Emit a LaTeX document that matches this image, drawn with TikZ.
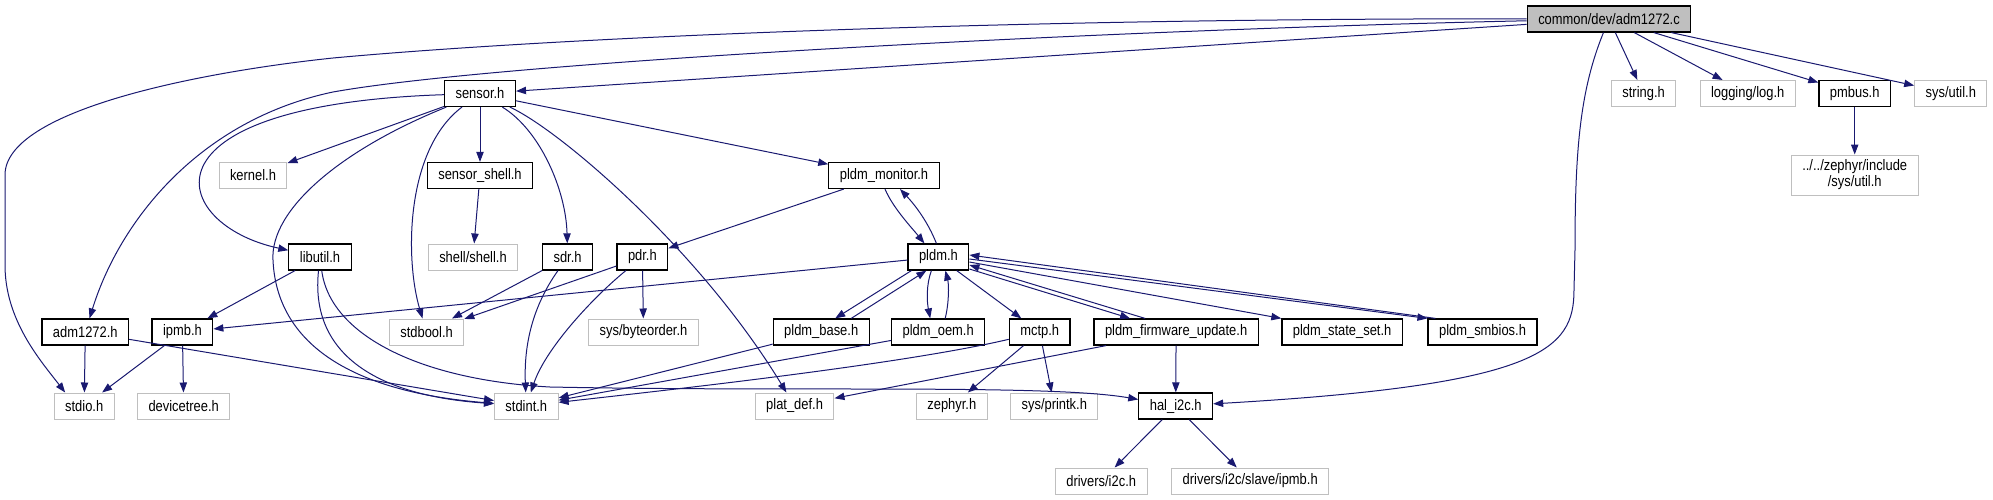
\documentclass[tikz,border=0pt]{standalone}
\usepackage{fontspec}
\setmainfont{Liberation Sans}[FakeStretch=0.85]
\definecolor{edgeblue}{RGB}{25,25,112}
\definecolor{rootgray}{RGB}{191,191,191}
\definecolor{extgray}{RGB}{191,191,191}
\usetikzlibrary{arrows.meta,calc}

\begin{document}
\begin{tikzpicture}[
  x=0.75pt,y=-0.75pt,
  file/.style={draw=black,fill=white,line width=0.9pt,minimum height=19.5pt,
    inner xsep=8.25pt,inner ysep=0pt,font=\fontsize{11.4}{12}\selectfont,align=center},
  ext/.style={file,draw=extgray,line width=0.75pt},
  root/.style={file,fill=rootgray},
  arr/.style={-{Triangle[length=7.5pt,width=5.5pt]},edgeblue,line width=0.75pt}
]
  \useasboundingbox (0,0) rectangle (1993,500);
  % File itself
  \node[root] (root) at (1609,19) {common/dev/adm1272.c};
  % Direct includes
  \node[file] (sensor) at (480,93.5) {sensor.h};
  \node[ext] (strh) at (1643.6,93.5) {string.h};
  \node[ext] (logh) at (1747.7,93.5) {logging/log.h};
  \node[file] (pmbus) at (1854.7,93.5) {pmbus.h};
  \node[ext] (sysutil) at (1950.8,93.5) {sys/util.h};
  % Second level
  \node[ext] (kernel) at (253,175.5) {kernel.h};
  \node[file] (sshell) at (480,175.5) {sensor\_shell.h};
  \node[file] (pmon) at (884,175.5) {pldm\_monitor.h};
  \node[ext,minimum height=30pt] (zutil) at (1854.7,175) {../../zephyr/include\\/sys/util.h};
  % Third level
  \node[file] (libutil) at (320,257) {libutil.h};
  \node[ext] (shellh) at (473,257) {shell/shell.h};
  \node[file] (sdr) at (567.6,257) {sdr.h};
  \node[file] (pdr) at (642.4,257) {pdr.h};
  \node[file] (pldm) at (938.4,257) {pldm.h};
  % Fourth level
  \node[file] (admh) at (85.3,332) {adm1272.h};
  \node[file] (ipmb) at (182.4,332) {ipmb.h};
  \node[ext] (stdbool) at (426.6,332) {stdbool.h};
  \node[ext] (byteord) at (643.5,332) {sys/byteorder.h};
  \node[file] (pbase) at (821.2,332) {pldm\_base.h};
  \node[file] (poem) at (938.2,332) {pldm\_oem.h};
  \node[file] (mctp) at (1039.7,332) {mctp.h};
  \node[file] (pfw) at (1176.1,332) {pldm\_firmware\_update.h};
  \node[file] (pstate) at (1342.1,332) {pldm\_state\_set.h};
  \node[file] (psmbios) at (1482.5,332) {pldm\_smbios.h};
  % Fifth level
  \node[ext] (stdio) at (84.2,406) {stdio.h};
  \node[ext] (devtree) at (183.7,406) {devicetree.h};
  \node[ext] (stdint) at (526.3,406) {stdint.h};
  \node[ext] (platdef) at (794.6,406) {plat\_def.h};
  \node[ext] (zephyr) at (951.8,406) {zephyr.h};
  \node[ext] (printk) at (1054.3,406) {sys/printk.h};
  \node[file] (hal) at (1175.7,406) {hal\_i2c.h};
  % Bottom
  \node[ext] (drvi2c) at (1101.2,481) {drivers/i2c.h};
  \node[ext] (drvipmb) at (1250.2,481) {drivers/i2c/slave/ipmb.h};

  % adm1272.c
  \draw[arr] (root) .. controls (1000,18) and (550,38) .. (333,58)
    .. controls (200,72) and (5,110) .. (5,175) -- (5,265)
    .. controls (5,320) and (40,360) .. ($(stdio.north)+(-19,0)$);
  \draw[arr] (root) .. controls (1100,30) and (500,62) .. (333,92)
    .. controls (200,120) and (120,220) .. (admh);
  \draw[arr] (root) -- (sensor);
  \draw[arr] (root) .. controls (1580,90) and (1575,150) .. (1575,250) -- (1574,290)
    .. controls (1574,350) and (1540,385) .. (hal);
  \draw[arr] (root) -- (strh);
  \draw[arr] (root) -- (logh);
  \draw[arr] (root) -- (pmbus);
  \draw[arr] (root) -- (sysutil);
  \draw[arr] (pmbus) -- (zutil);
  % sensor.h
  \draw[arr] (sensor) .. controls (130,105) and (170,225) .. (libutil);
  \draw[arr] (sensor) -- (kernel);
  \draw[arr] (sensor) .. controls (340,150) and (270,210) .. (273,260)
    .. controls (276,330) and (330,390) .. (stdint);
  \draw[arr] (sensor) .. controls (405,150) and (405,260) .. (stdbool);
  \draw[arr] (sensor) -- (sshell);
  \draw[arr] (sensor) .. controls (540,130) and (566,190) .. (sdr);
  \draw[arr] (sensor) .. controls (560,130) and (700,250) .. (platdef);
  \draw[arr] (sensor) -- (pmon);
  \draw[arr] (sshell) -- (shellh);
  % pldm_monitor.h / pldm.h
  \draw[arr] (pmon) -- (pdr);
  \draw[arr] ($(pmon.south)+(1,0)$) .. controls (893,208) and (912,228) .. ($(pldm.north)+(-14,0)$);
  \draw[arr] ($(pldm.north)+(-2,0)$) .. controls (928,222) and (915,205) .. ($(pmon.south)+(16,0)$);
  \draw[arr] (pldm) -- (ipmb);
  \draw[arr] ($(pldm.south west)+(4,0)$) -- ($(pbase.north)+(14,0)$);
  \draw[arr] ($(pbase.north)+(30,0)$) -- ($(pldm.south)+(-12,0)$);
  \draw[arr] ($(pldm.south)+(-7,0)$) .. controls (926,285) and (927,302) .. ($(poem.north)+(-8,0)$);
  \draw[arr] ($(poem.north)+(7,0)$) .. controls (949,303) and (949,285) .. ($(pldm.south)+(7,0)$);
  \draw[arr] (pldm) -- (mctp);
  \draw[arr] ($(pldm.east)+(0,12)$) -- ($(pfw.north)+(-46,0)$);
  \draw[arr] ($(pfw.north)+(-31,0)$) -- ($(pldm.east)+(0,8)$);
  \draw[arr] ($(pldm.east)+(0,5)$) -- (pstate.north west);
  \draw[arr] ($(pldm.east)+(0,2)$) -- (psmbios.north west);
  \draw[arr] ($(psmbios.north west)+(8,0)$) -- ($(pldm.east)+(0,-2)$);
  % second row down
  \draw[arr] (pbase) -- (stdint);
  \draw[arr] (poem) -- (stdint);
  \draw[arr] (mctp) .. controls (900,365) and (650,392) .. (stdint);
  \draw[arr] (mctp) -- (zephyr);
  \draw[arr] (mctp) -- (printk);
  \draw[arr] (pfw) -- (platdef);
  \draw[arr] (pfw) -- (hal);
  % libutil.h
  \draw[arr] (libutil) -- (ipmb);
  \draw[arr] (libutil) .. controls (310,350) and (370,395) .. (stdint);
  \draw[arr] (libutil) .. controls (330,335) and (420,380) .. (550,387)
    .. controls (800,392) and (1050,384) .. (hal);
  % sdr.h, pdr.h
  \draw[arr] (sdr) -- (stdbool);
  \draw[arr] (sdr) .. controls (530,310) and (524,350) .. (stdint);
  \draw[arr] (pdr) -- (stdbool);
  \draw[arr] (pdr) .. controls (590,300) and (545,350) .. (stdint);
  \draw[arr] (pdr) -- (byteord);
  % adm1272.h, ipmb.h
  \draw[arr] (admh) -- (stdio);
  \draw[arr] (admh) -- (stdint);
  \draw[arr] (ipmb) -- (stdio);
  \draw[arr] (ipmb) -- (devtree);
  % hal_i2c.h
  \draw[arr] (hal) -- (drvi2c);
  \draw[arr] (hal) -- (drvipmb);
\end{tikzpicture}
\end{document}
